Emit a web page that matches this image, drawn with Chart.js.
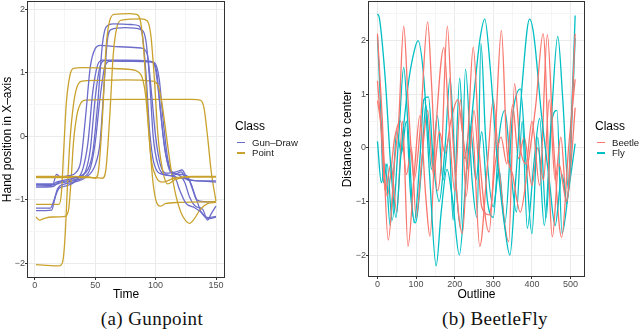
<!DOCTYPE html>
<html lang="en">
<head>
<meta charset="UTF-8" />
<title>Gunpoint / BeetleFly</title>
<script src="https://cdn.jsdelivr.net/npm/chart.js"></script>
<style>
  body { margin: 0; background: #fff; width: 640px; height: 336px; position: relative; overflow: hidden;
         font-family: "Liberation Sans", Arial, sans-serif; }
  canvas { position: absolute; top: 0; }
  #grafGun { left: 0; }
  #grafBeetle { left: 320px; }
  .legTitulo { position: absolute; font-size: 12px; line-height: 14px; color: #000; }
  .legItem { position: absolute; font-size: 9.6px; line-height: 10px; color: #1a1a1a; white-space: nowrap; }
  .legLinha { position: absolute; height: 1.5px; width: 8px; }
  .caption { position: absolute; top: 307px; width: 220px; text-align: center; font-family: "Liberation Serif", serif;
             font-size: 19px; line-height: 24px; letter-spacing: 0.4px; color: #111; }
</style>
</head>
<body>

<canvas id="grafGun" width="320" height="305"></canvas>
<canvas id="grafBeetle" width="320" height="305"></canvas>

<div class="legTitulo" style="left:235px; top:119px;">Class</div>
<div class="legLinha" style="left:237px; top:141.5px; background:#6C6CCB;"></div>
<div class="legItem" style="left:252px; top:137.5px;">Gun–Draw</div>
<div class="legLinha" style="left:237px; top:152px; background:#C9A22D;"></div>
<div class="legItem" style="left:252px; top:148px;">Point</div>

<div class="legTitulo" style="left:595px; top:119px;">Class</div>
<div class="legLinha" style="left:597px; top:141.5px; background:#F8766D;"></div>
<div class="legItem" style="left:612px; top:137.5px;">Beetle</div>
<div class="legLinha" style="left:597px; top:152px; background:#00BFC4;"></div>
<div class="legItem" style="left:612px; top:148px;">Fly</div>

<div class="caption" style="left:42px;">(a) Gunpoint</div>
<div class="caption" style="left:385px;">(b) BeetleFly</div>

<script>
  // ---- Gunpoint: [time, hand position] ----
  const gunDraw1 = [[1,-0.78],[14,-0.77],[18,-0.72],[22,-0.7],[30,-0.67],[38,-0.62],[44,-0.52],[48,-0.25],[52,0.5],[56,1.45],[59,1.72],[65,1.77],[80,1.76],[86,1.74],[89,1.6],[92,1.0],[95,0.1],[99,-0.45],[106,-0.6],[114,-0.62],[121,-0.56],[126,-0.68],[135,-0.7],[150,-0.72]];
  const gunDraw2 = [[1,-1.13],[13,-1.13],[16,-1.0],[19,-0.82],[25,-0.75],[33,-0.72],[42,-0.65],[50,-0.45],[54,-0.1],[57,0.7],[60,1.5],[63,1.68],[75,1.71],[88,1.68],[92,1.5],[95,0.9],[98,0.0],[102,-0.45],[108,-0.6],[116,-0.65],[120,-0.85],[125,-1.05],[132,-1.12],[138,-1.2],[143,-1.3],[150,-1.27]];
  const gunDraw3 = [[1,-0.75],[15,-0.75],[18,-0.6],[21,-0.64],[28,-0.62],[34,-0.57],[38,-0.4],[42,0.3],[46,1.1],[50,1.38],[54,1.43],[70,1.41],[88,1.39],[93,1.3],[96,0.8],[100,0.0],[104,-0.45],[110,-0.58],[117,-0.56],[122,-0.53],[126,-0.66],[135,-0.7],[150,-0.7]];
  const gunDraw4 = [[1,-1.17],[14,-1.16],[17,-0.95],[20,-0.82],[26,-0.78],[34,-0.7],[40,-0.5],[44,-0.1],[48,0.7],[52,1.12],[56,1.2],[75,1.2],[96,1.18],[100,1.05],[103,0.6],[107,-0.1],[112,-0.55],[118,-0.6],[124,-0.72],[128,-0.95],[133,-1.1],[139,-1.15],[143,-1.32],[146,-1.22],[150,-1.1]];
  const gunDraw5 = [[1,-0.8],[15,-0.79],[20,-0.72],[28,-0.7],[36,-0.66],[42,-0.55],[46,-0.2],[50,0.6],[54,1.1],[58,1.19],[80,1.18],[97,1.17],[101,1.0],[104,0.4],[108,-0.25],[113,-0.55],[120,-0.6],[126,-0.62],[130,-0.8],[134,-1.0],[140,-1.03],[150,-1.03]];
  const gunDraw6 = [[1,-0.76],[16,-0.76],[22,-0.73],[32,-0.7],[40,-0.65],[46,-0.5],[50,-0.1],[54,0.6],[58,1.1],[62,1.18],[85,1.19],[99,1.16],[103,0.9],[106,0.3],[110,-0.35],[115,-0.62],[122,-0.66],[128,-0.7],[133,-0.95],[138,-1.2],[144,-1.28],[150,-1.26]];
  const point1 = [[1,-0.63],[30,-0.63],[45,-0.64],[50,-0.66],[53,-0.5],[56,0.3],[59,1.4],[62,1.82],[66,1.92],[78,1.93],[84,1.92],[87,1.85],[90,1.4],[93,0.5],[96,-0.3],[100,-0.62],[106,-0.72],[115,-0.66],[130,-0.63],[150,-0.63]];
  const point2 = [[1,-0.65],[30,-0.65],[50,-0.65],[56,-0.66],[59,-0.5],[62,0.3],[65,1.3],[68,1.72],[72,1.83],[88,1.85],[93,1.82],[96,1.6],[99,0.9],[102,0.0],[106,-0.55],[110,-0.75],[116,-0.68],[130,-0.64],[150,-0.64]];
  const point3 = [[1,-1.07],[12,-1.07],[20,-1.07],[22,-0.9],[24,-0.2],[26,0.5],[29,0.95],[32,1.07],[40,1.08],[60,1.07],[80,1.05],[85,1.02],[89,0.92],[92,0.6],[95,-0.1],[98,-0.75],[101,-1.05],[104,-1.1],[108,-1.06],[120,-1.04],[150,-1.03]];
  const point4 = [[1,-2.02],[10,-2.03],[20,-2.04],[23,-1.98],[25,-1.6],[27,-0.8],[29,-0.1],[32,0.5],[35,0.78],[39,0.87],[50,0.88],[75,0.89],[97,0.87],[102,0.8],[105,0.55],[109,0.0],[113,-0.55],[117,-0.95],[121,-1.2],[125,-1.33],[128,-1.37],[132,-1.3],[137,-1.15],[143,-1.06],[150,-1.04]];
  const point5 = [[1,-1.27],[4,-1.32],[8,-1.29],[15,-1.27],[25,-1.26],[28,-1.15],[30,-0.7],[32,-0.1],[35,0.35],[38,0.52],[42,0.57],[70,0.58],[100,0.58],[130,0.58],[137,0.57],[140,0.45],[143,0.0],[146,-0.55],[150,-1.02]];

  // ---- BeetleFly: [outline, distance to center] ----
  const beetle1 = [[0,2.13],[12,0.6],[28,-1.72],[45,-0.2],[55,0.5],[68,2.27],[80,0.8],[95,-0.6],[110,0.3],[130,2.35],[140,1.2],[155,-0.8],[165,-0.3],[181,2.27],[195,0.2],[220,-1.6],[235,0.3],[248,1.88],[265,-0.2],[289,-1.57],[305,0.2],[321,2.19],[335,0.0],[350,-0.5],[370,-1.2],[390,-0.3],[410,0.8],[429,2.13],[453,-1.66],[470,-0.3],[490,-1.0],[512,2.13]];
  const beetle2 = [[0,1.25],[10,0.3],[20,-0.8],[35,-0.3],[50,-1.2],[65,0.5],[79,-1.84],[95,-0.5],[110,0.6],[125,-0.9],[136,-1.65],[150,0.2],[172,1.87],[185,0.5],[200,-0.8],[215,0.9],[230,-0.9],[245,0.4],[265,-1.84],[285,-0.3],[300,0.9],[315,-0.4],[340,-1.75],[355,1.2],[370,0.0],[385,-0.3],[400,0.5],[420,-0.7],[440,2.11],[455,0.2],[477,-1.67],[495,0.0],[512,1.28]];
  const beetle3 = [[0,0.88],[10,0.4],[25,-0.9],[45,0.2],[60,0.5],[75,-0.5],[88,0.0],[100,-1.3],[115,-0.2],[130,0.7],[145,-0.5],[160,0.3],[175,-0.1],[190,0.5],[208,0.9],[220,0.3],[235,-0.4],[250,0.7],[270,-1.1],[290,-1.25],[305,-0.3],[320,0.2],[335,-0.3],[350,0.8],[365,-0.2],[380,0.2],[400,-0.7],[415,0.0],[430,-0.6],[445,0.9],[460,-0.6],[475,0.2],[490,-1.0],[500,-0.4],[512,0.75]];
  const fly1 = [[0,2.5],[5,2.42],[20,1.3],[35,-0.4],[48,-1.3],[60,-0.2],[80,1.2],[95,1.8],[105,2.0],[120,1.3],[135,-0.5],[152,-2.2],[165,-1.2],[180,-0.4],[195,-1.0],[212,-2.0],[230,-0.5],[250,1.0],[265,2.0],[278,2.4],[292,1.5],[310,-0.2],[330,-1.5],[343,-2.0],[358,-0.6],[375,1.2],[394,2.4],[405,2.1],[425,0.6],[445,-0.6],[460,-1.45],[478,-0.5],[491,-1.04],[502,0.5],[512,2.47]];
  const fly2 = [[0,2.08],[8,0.8],[15,-0.65],[25,-0.3],[38,-1.35],[55,0.2],[68,1.5],[80,0.3],[95,-1.4],[110,-0.2],[120,0.9],[132,0.95],[145,-0.3],[160,-1.0],[175,0.0],[188,1.3],[202,-0.5],[215,-1.5],[228,1.47],[245,-0.6],[258,-1.3],[268,1.95],[280,0.2],[300,-1.1],[315,-0.4],[330,-1.4],[350,0.6],[370,1.1],[385,-0.3],[400,-1.6],[415,0.2],[432,-1.45],[450,0.5],[467,2.08],[480,0.9],[495,-0.8],[505,0.8],[512,2.05]];
  const fly3 = [[0,0.12],[10,-0.65],[20,-0.3],[33,-1.45],[50,0.3],[62,-0.1],[75,0.5],[85,-0.8],[98,-1.4],[115,-0.3],[125,0.8],[140,-0.4],[155,0.6],[170,-0.6],[185,0.2],[196,-1.35],[213,1.3],[225,-0.2],[240,0.4],[255,-0.6],[270,0.3],[285,-1.0],[300,-1.3],[315,0.2],[330,0.7],[345,-0.4],[360,-1.2],[375,0.5],[388,-1.5],[405,-0.3],[420,0.55],[437,-1.3],[450,0.4],[465,0.7],[478,-1.6],[495,-0.8],[512,0.08]];

  // ticks
  const gunXTicks = [0, 50, 100, 150], gunXLabels = ['0', '50', '100', '150'], gunXMinor = [25, 75, 125];
  const gunYTicks = [-2, -1, 0, 1, 2], gunYLabels = ['\u22122', '\u22121', '0', '1', '2'], gunYMinor = [-1.5, -0.5, 0.5, 1.5];
  const flyXTicks = [0, 100, 200, 300, 400, 500], flyXLabels = ['0', '100', '200', '300', '400', '500'], flyXMinor = [50, 150, 250, 350, 450];
  const flyYTicks = [-2, -1, 0, 1, 2], flyYLabels = ['\u22122', '\u22121', '0', '1', '2'], flyYMinor = [-1.5, -0.5, 0.5, 1.5, 2.5];

  const corGun = '#6C6CCB', corPoint = '#C9A22D', corBeetle = '#F8766D', corFly = '#00BFC4';

  Chart.defaults.font.family = "'Liberation Sans', Arial, sans-serif";

  const bordaPainel = {
    id: 'bordaPainel',
    afterDatasetsDraw(chart) {
      const { ctx, chartArea: a } = chart;
      ctx.save();
      ctx.strokeStyle = '#333333';
      ctx.lineWidth = 1;
      ctx.strokeRect(a.left + 0.5, a.top + 0.5, a.right - a.left - 1, a.bottom - a.top - 1);
      ctx.restore();
    }
  };

  function eixo(min, max, majors, labels, minors, titulo, tamanho, tituloPad, horizontal) {
    const todos = majors.concat(minors).sort((a, b) => a - b);
    return {
      type: 'linear', min, max,
      afterBuildTicks: s => { s.ticks = todos.map(v => ({ value: v })); },
      afterFit: s => {
        if (horizontal) s.height = tamanho; else s.width = tamanho;
        s.paddingTop = 0; s.paddingBottom = 0; s.paddingLeft = 0; s.paddingRight = 0;
      },
      ticks: {
        autoSkip: false, maxRotation: 0, padding: 0, color: '#4D4D4D', font: { size: 9 },
        callback: v => { const i = majors.indexOf(v); return i >= 0 ? labels[i] : ''; }
      },
      grid: {
        color: c => (c.tick && majors.includes(c.tick.value)) ? '#EBEBEB' : '#F5F5F5',
        tickColor: c => (c.tick && majors.includes(c.tick.value)) ? '#333333' : 'rgba(0,0,0,0)',
        tickLength: 2, drawTicks: true
      },
      border: { display: false },
      title: { display: true, text: titulo, color: '#000', font: { size: 12 }, padding: tituloPad }
    };
  }

  function serie(pts, cor) {
    return {
      data: pts.map(([x, y]) => ({ x, y })),
      borderColor: cor, borderWidth: 1.3, pointRadius: 0, fill: false,
      cubicInterpolationMode: 'monotone'
    };
  }

  new Chart(document.getElementById('grafGun'), {
    type: 'line',
    data: {
      datasets: [
        serie(point1, corPoint), serie(gunDraw1, corGun), serie(point2, corPoint), serie(gunDraw2, corGun),
        serie(point3, corPoint), serie(gunDraw3, corGun), serie(point4, corPoint), serie(gunDraw4, corGun),
        serie(point5, corPoint), serie(gunDraw5, corGun), serie(gunDraw6, corGun)
      ]
    },
    options: {
      responsive: false, animation: false, devicePixelRatio: 1, events: [],
      layout: { padding: { top: 1, right: 95, left: 0, bottom: 0 } },
      plugins: { legend: { display: false }, tooltip: { enabled: false } },
      scales: {
        x: eixo(-6.45, 157.45, gunXTicks, gunXLabels, gunXMinor, 'Time', 27, { top: 0, bottom: 3 }, true),
        y: eixo(-2.23, 2.13, gunYTicks, gunYLabels, gunYMinor, 'Hand position in X–axis', 27, { top: 0.8, bottom: 0 }, false)
      }
    },
    plugins: [bordaPainel]
  });

  new Chart(document.getElementById('grafBeetle'), {
    type: 'line',
    data: {
      datasets: [
        serie(beetle1, corBeetle), serie(fly1, corFly), serie(beetle2, corBeetle), serie(fly2, corFly),
        serie(beetle3, corBeetle), serie(fly3, corFly)
      ]
    },
    options: {
      responsive: false, animation: false, devicePixelRatio: 1, events: [],
      layout: { padding: { top: 1, right: 55, left: 0, bottom: 0 } },
      plugins: { legend: { display: false }, tooltip: { enabled: false } },
      scales: {
        x: eixo(-24.5, 537.5, flyXTicks, flyXLabels, flyXMinor, 'Outline', 28, { top: 0, bottom: 3 }, true),
        y: eixo(-2.41, 2.74, flyYTicks, flyYLabels, flyYMinor, 'Distance to center', 48, { top: 20.8, bottom: 0 }, false)
      }
    },
    plugins: [bordaPainel]
  });
</script>

</body>
</html>
